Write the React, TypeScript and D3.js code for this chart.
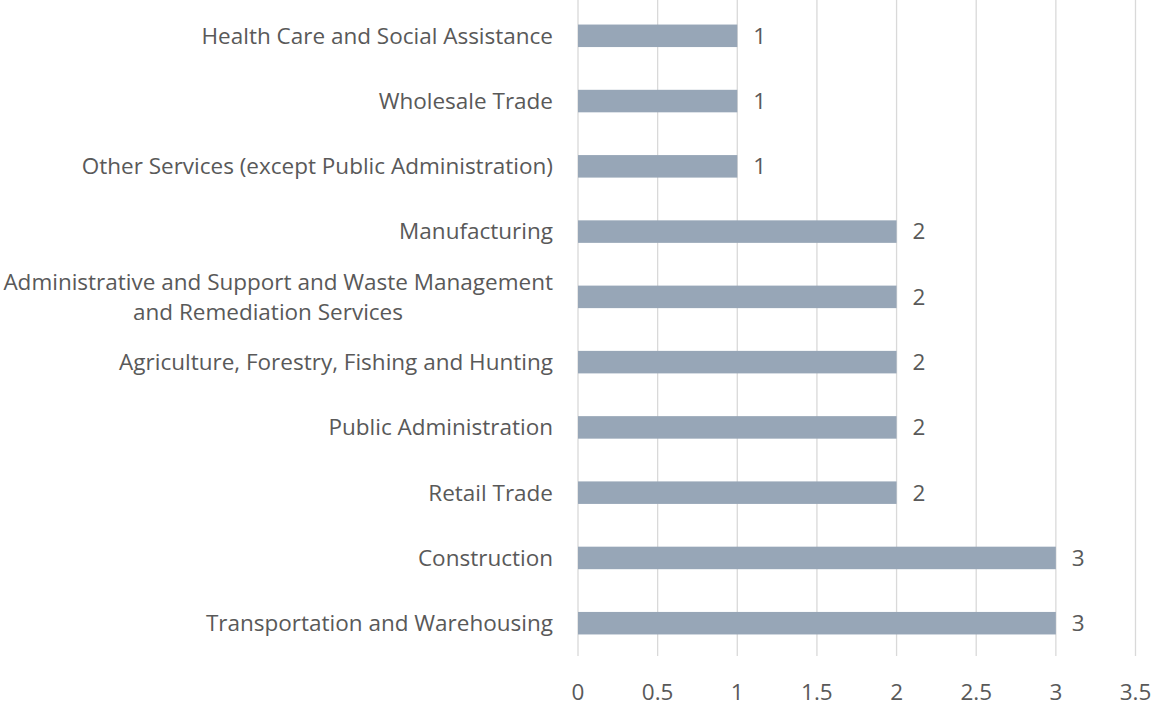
import React, { useEffect } from "react";
import * as d3 from "d3";

const categories = [
  "Health Care and Social Assistance",
  "Wholesale Trade",
  "Other Services (except Public Administration)",
  "Manufacturing",
  "Administrative and Support and Waste Management|and Remediation Services",
  "Agriculture, Forestry, Fishing and Hunting",
  "Public Administration",
  "Retail Trade",
  "Construction",
  "Transportation and Warehousing",
];
const values = [1, 1, 1, 2, 2, 2, 2, 2, 3, 3];
const xTicks = [0, 0.5, 1, 1.5, 2, 2.5, 3, 3.5];

const W = 1152;
const H = 707;
const FONT = "'Open Sans', 'Noto Sans', sans-serif";
const TEXT = "#595959";
const FS = 22.5;

export default function App() {
  useEffect(() => {
    document.body.style.margin = "0";
  }, []);

  const x = d3.scaleLinear().domain([0, 3.5]).range([578, 1135.5]);
  const y = d3
    .scaleBand<string>()
    .domain(categories)
    .range([3, 656])
    .paddingInner(0.655)
    .paddingOuter(0.33);
  const bw = y.bandwidth();

  return (
    <svg width={W} height={H} style={{ display: "block", background: "#ffffff" }}>
      {xTicks.map((t) => (
        <line
          key={"g" + t}
          x1={x(t)}
          x2={x(t)}
          y1={0}
          y2={656}
          stroke="#d9d9d9"
          strokeWidth={1.3}
        />
      ))}
      {categories.map((c, i) => (
        <g key={c}>
          <rect
            x={x(0)}
            y={y(c)!}
            width={x(values[i]) - x(0)}
            height={bw}
            fill="#97a6b7"
          />
          <text
            x={x(values[i]) + 16}
            y={y(c)! + bw / 2}
            dy="0.35em"
            fontFamily={FONT}
            fontSize={FS}
            fill={TEXT}
          >
            {values[i]}
          </text>
          {c.includes("|") ? (
            c.split("|").map((line, k, arr) => (
              <text
                key={k}
                x={k === 0 ? 553 : 268}
                y={y(c)! + bw / 2 + (k - (arr.length - 1) / 2) * 30}
                dy="0.35em"
                textAnchor={k === 0 ? "end" : "middle"}
                fontFamily={FONT}
                fontSize={FS}
                fill={TEXT}
              >
                {line}
              </text>
            ))
          ) : (
            <text
              x={553}
              y={y(c)! + bw / 2}
              dy="0.35em"
              textAnchor="end"
              fontFamily={FONT}
              fontSize={FS}
              fill={TEXT}
            >
              {c}
            </text>
          )}
        </g>
      ))}
      {xTicks.map((t) => (
        <text
          key={"t" + t}
          x={x(t)}
          y={692}
          dy="0.35em"
          textAnchor="middle"
          fontFamily={FONT}
          fontSize={FS}
          fill={TEXT}
        >
          {t}
        </text>
      ))}
    </svg>
  );
}
